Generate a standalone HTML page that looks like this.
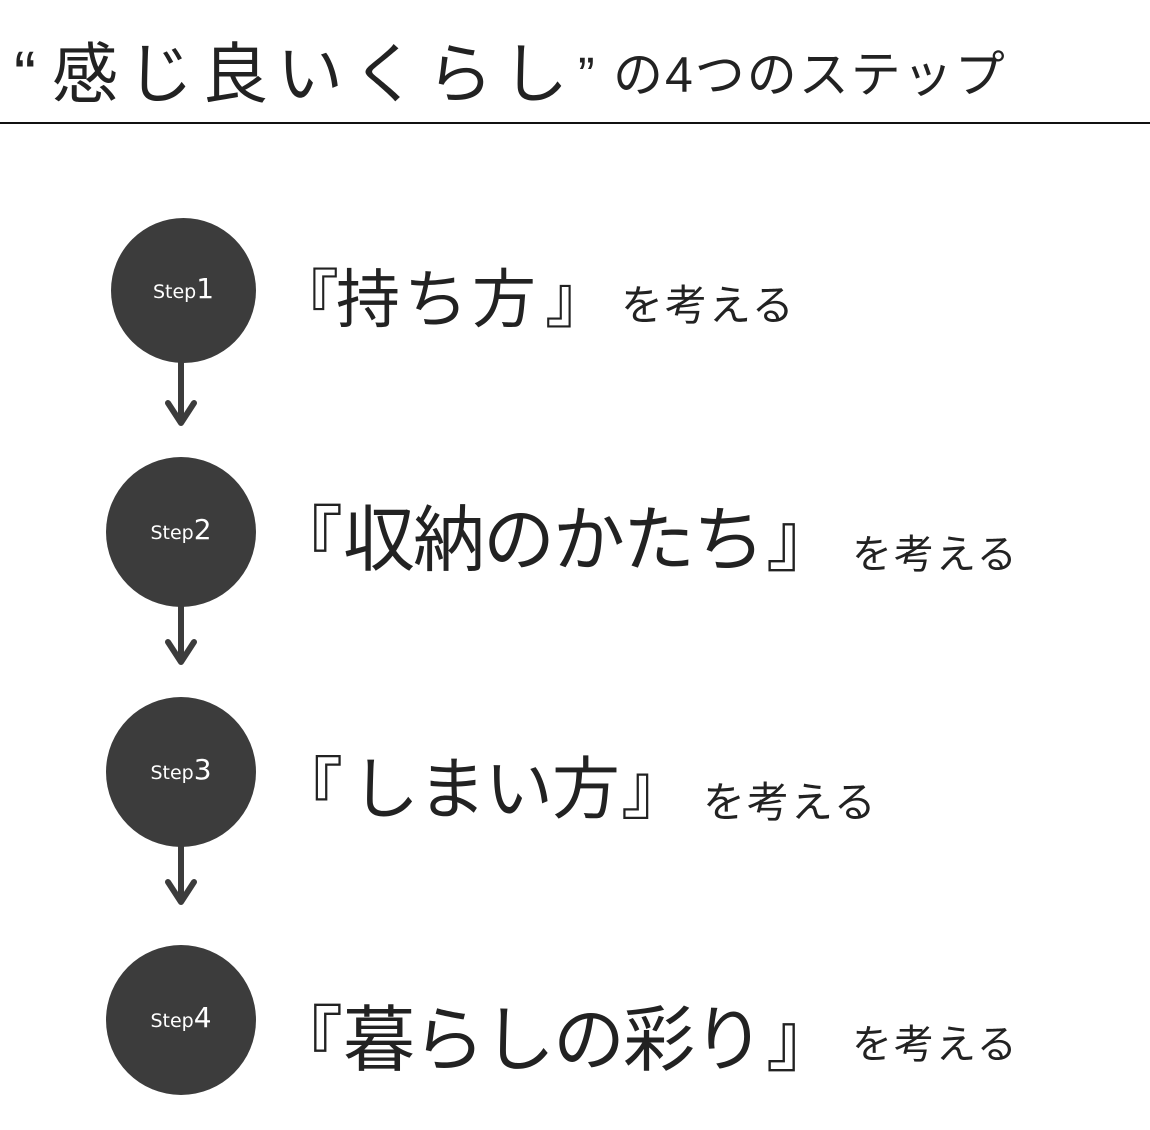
<!DOCTYPE html>
<html><head><meta charset="utf-8"><style>
body{margin:0;width:1150px;height:1130px;background:#fff;position:relative;overflow:hidden;font-family:"Liberation Sans","Noto Sans CJK JP",sans-serif;color:#222}
.t{position:absolute;white-space:nowrap;line-height:1}
.c{position:absolute;border-radius:50%;background:#3c3c3c;color:#fff;text-align:center;font-family:"DejaVu Sans","Liberation Sans",sans-serif}
.c span{position:absolute;left:0;right:0;top:50%;transform:translateY(-58%)}
.s{font-size:19px;font-weight:normal}.n{font-size:28px;font-weight:normal}
</style></head><body>
<div class="t" style="left:14px;top:41px;font-size:66px">“</div>
<div class="t" style="left:52px;top:41px;font-size:66px;letter-spacing:9px">感じ良いくらし</div>
<div class="t" style="left:578px;top:50px;font-size:50px">”</div>
<div class="t" style="left:613px;top:50px;font-size:50px;letter-spacing:2px">の4つのステップ</div>
<div style="position:absolute;left:0;top:122px;width:1150px;height:2px;background:#111"></div>

<div class="c" style="left:111px;top:218px;width:145px;height:145px"><span><b class="s">Step</b><b class="n">1</b></span></div>
<div class="c" style="left:106px;top:457px;width:150px;height:150px"><span><b class="s">Step</b><b class="n">2</b></span></div>
<div class="c" style="left:106px;top:697px;width:150px;height:150px"><span><b class="s">Step</b><b class="n">3</b></span></div>
<div class="c" style="left:106px;top:945px;width:150px;height:150px"><span><b class="s">Step</b><b class="n">4</b></span></div>

<svg style="position:absolute;left:0;top:0" width="1150" height="1130">
<g stroke="#3c3c3c" stroke-width="6" fill="none" stroke-linecap="round" stroke-linejoin="round">
<path d="M181 360V423M168 403L181 423L194 403"/>
<path d="M181 604V662M168 642L181 662L194 642"/>
<path d="M181 844V902M168 882L181 902L194 882"/>
</g></svg>

<!-- row1 -->
<div class="t" style="left:275px;top:268px;font-size:64px">『</div>
<div class="t" style="left:336px;top:268px;font-size:64px;letter-spacing:4px">持ち方</div>
<div class="t" style="left:545px;top:268px;font-size:64px">』</div>
<div class="t" style="left:621px;top:285px;font-size:42px;letter-spacing:2px">を考える</div>
<!-- row2 -->
<div class="t" style="left:271px;top:505px;font-size:72px">『</div>
<div class="t" style="left:343px;top:505px;font-size:72px;letter-spacing:-2px">収納のかたち</div>
<div class="t" style="left:766px;top:505px;font-size:72px">』</div>
<div class="t" style="left:852px;top:535px;font-size:40px;letter-spacing:2px">を考える</div>
<!-- row3 -->
<div class="t" style="left:275px;top:756px;font-size:68px">『</div>
<div class="t" style="left:351px;top:756px;font-size:68px;letter-spacing:-1px">しまい方</div>
<div class="t" style="left:621px;top:756px;font-size:68px">』</div>
<div class="t" style="left:703px;top:782px;font-size:42px;letter-spacing:2px">を考える</div>
<!-- row4 -->
<div class="t" style="left:271px;top:1005px;font-size:72px">『</div>
<div class="t" style="left:343px;top:1005px;font-size:72px;letter-spacing:-2px">暮らしの彩り</div>
<div class="t" style="left:766px;top:1005px;font-size:72px">』</div>
<div class="t" style="left:852px;top:1025px;font-size:40px;letter-spacing:2px">を考える</div>
</body></html>
